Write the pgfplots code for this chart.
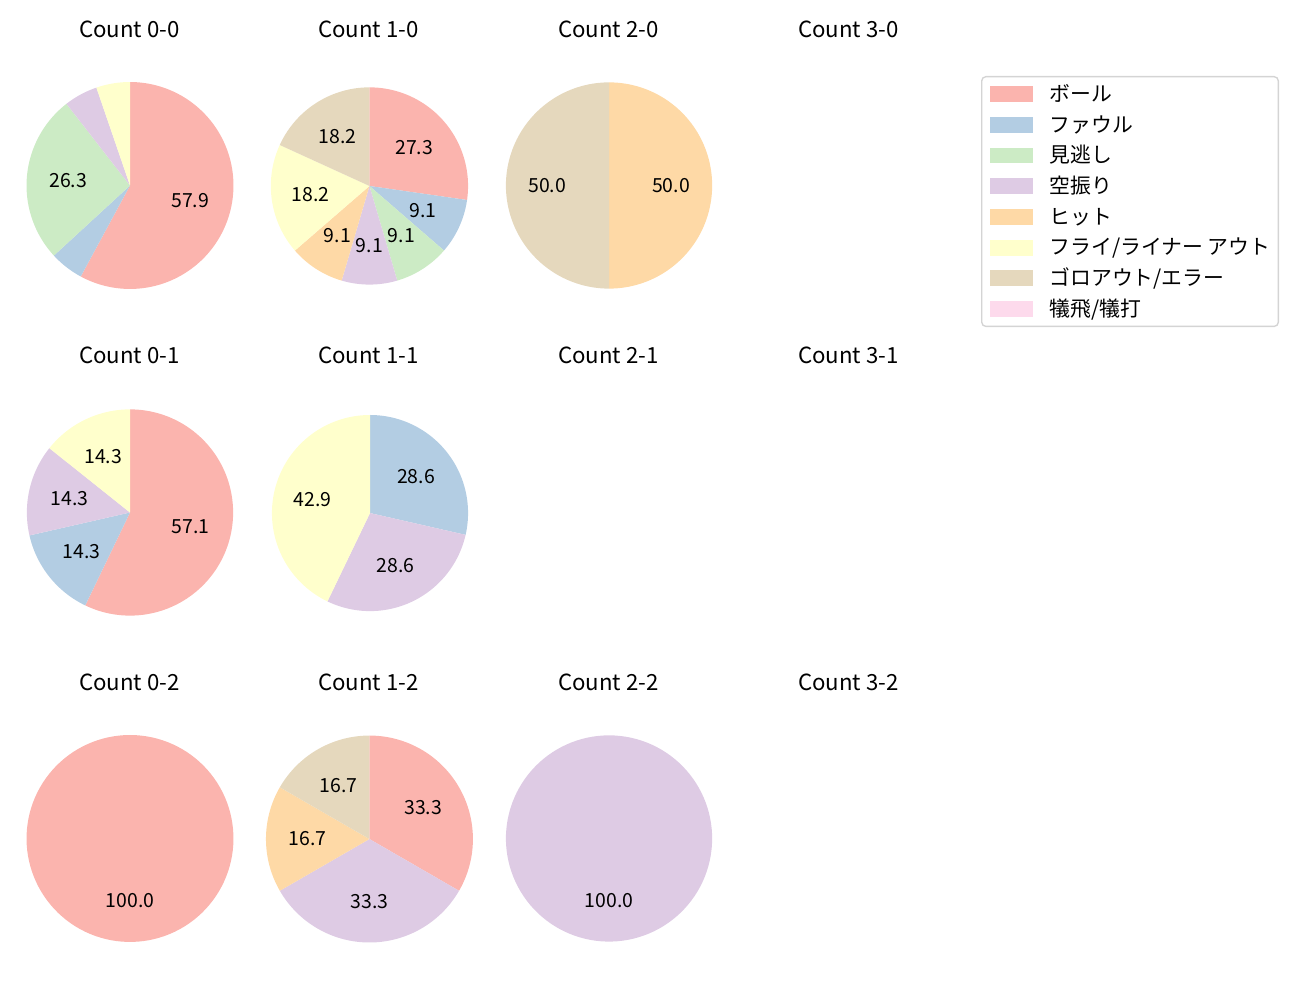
\documentclass[border=0pt]{standalone}
\usepackage{fontspec}
\setmainfont{Noto Sans CJK JP}
\usepackage{pgfplots}
\pgfplotsset{compat=1.18}

\definecolor{cBall}{HTML}{FBB4AE}
\definecolor{cFoul}{HTML}{B3CDE3}
\definecolor{cMino}{HTML}{CCEBC5}
\definecolor{cKara}{HTML}{DECBE4}
\definecolor{cHit}{HTML}{FED9A6}
\definecolor{cFly}{HTML}{FFFFCC}
\definecolor{cGoro}{HTML}{E5D8BD}
\definecolor{cGihi}{HTML}{FDDAEC}

\newcommand\lblfont{\fontsize{14}{16.8}\selectfont}
\newcommand\legfont{\fontsize{15}{18}\selectfont}
\newcommand\ttlfont{\fontsize{16}{19}\selectfont}

% draws a pie (clockwise from 12 o'clock) from a list count/colour
\newcommand{\drawpie}[1]{%
  \gdef\pietotal{0}%
  \foreach \vv/\cc in {#1}{\pgfmathsetmacro\tmp{\pietotal+\vv}\xdef\pietotal{\tmp}}%
  \gdef\piecum{0}%
  \foreach \vv/\cc in {#1}{%
    \pgfmathsetmacro\aS{90-360*\piecum/\pietotal}%
    \pgfmathsetmacro\tmp{\piecum+\vv}\xdef\piecum{\tmp}%
    \pgfmathsetmacro\aE{90-360*\piecum/\pietotal}%
    \pgfmathsetmacro\aM{(\aS+\aE)/2}%
    \pgfmathsetmacro\lx{0.6*cos(\aM)}%
    \pgfmathsetmacro\ly{0.6*sin(\aM)}%
    \pgfmathtruncatemacro\tenths{round(1000*\vv/\pietotal)}%
    \pgfmathtruncatemacro\ipart{(\tenths+0.5)/10}%
    \pgfmathtruncatemacro\dpart{\tenths-10*\ipart}%
    \edef\temp{\noexpand\addplot[fill=\cc, draw=none, domain=\aE:\aS, samples=120] ({cos(x)},{sin(x)}) -- (axis cs:0,0) -- cycle;}%
    \temp
    \ifnum\tenths>60
      \edef\temp{\noexpand\node[font=\noexpand\lblfont, text=black] at (axis cs:\lx,\ly) {\ipart.\dpart};}%
      \temp
    \fi
  }%
}

\pgfplotsset{pieax/.style={hide axis, scale only axis, anchor=center,
  xmin=-1, xmax=1, ymin=-1, ymax=1, clip=false}}

\newcommand{\pieaxis}[4]{%
  \begin{axis}[pieax, at={(#1,#2)}, width=#3, height=#3]
    \drawpie{#4}
  \end{axis}}

\begin{document}
\begin{tikzpicture}
\path (0pt,0pt) rectangle (936pt,720pt);

% ---- titles ----
\foreach \col/\xx in {0/93.24pt,1/265.32pt,2/438.12pt,3/610.92pt}{
  \node[font=\ttlfont, anchor=base] at (\xx,693.3pt) {Count \col-0};
  \node[font=\ttlfont, anchor=base] at (\xx,458.2pt) {Count \col-1};
  \node[font=\ttlfont, anchor=base] at (\xx,223.1pt) {Count \col-2};
}

% ---- pies: x, y, diameter, count/colour ----
% Count 0-0
\pieaxis{93.6pt}{586.44pt}{149.0pt}{11/cBall, 1/cFoul, 5/cMino, 1/cKara, 1/cFly}
% Count 1-0
\pieaxis{266.0pt}{586.1pt}{142.0pt}{3/cBall, 1/cFoul, 1/cMino, 1/cKara, 1/cHit, 2/cFly, 2/cGoro}
% Count 2-0
\pieaxis{438.5pt}{586.44pt}{148.5pt}{1/cHit, 1/cGoro}
% Count 0-1
\pieaxis{93.6pt}{351.0pt}{148.5pt}{4/cBall, 1/cFoul, 1/cKara, 1/cFly}
% Count 1-1
\pieaxis{266.4pt}{350.6pt}{141.2pt}{2/cFoul, 2/cKara, 3/cFly}
% Count 0-2
\pieaxis{93.6pt}{116.3pt}{149.0pt}{1/cBall}
% Count 1-2
\pieaxis{266.0pt}{115.9pt}{149.0pt}{2/cBall, 2/cKara, 1/cHit, 1/cGoro}
% Count 2-2
\pieaxis{438.5pt}{116.3pt}{148.5pt}{1/cKara}

% ---- legend ----
\begin{axis}[at={(0pt,0pt)}, anchor=south west, scale only axis,
  width=936pt, height=720pt, hide axis, xmin=0, xmax=1, ymin=0, ymax=1,
  legend cell align=left,
  legend style={at={(0.75462,0.924)}, anchor=north west, draw=black!17,
    line width=1pt, rounded corners=3pt, fill=white, font=\legfont,
    inner xsep=5.8pt, inner ysep=1.5pt, row sep=0pt,
    nodes={inner sep=0pt, text height=16.35pt, text depth=5.75pt}},
  legend image code/.code={\fill[#1, sharp corners] (0pt,-5.2pt) rectangle (30.2pt,5.2pt); \path (42.0pt,0pt);}]
  \addlegendimage{cBall}\addlegendentry{ボール}
  \addlegendimage{cFoul}\addlegendentry{ファウル}
  \addlegendimage{cMino}\addlegendentry{見逃し}
  \addlegendimage{cKara}\addlegendentry{空振り}
  \addlegendimage{cHit}\addlegendentry{ヒット}
  \addlegendimage{cFly}\addlegendentry{フライ/ライナー アウト}
  \addlegendimage{cGoro}\addlegendentry{ゴロアウト/エラー}
  \addlegendimage{cGihi}\addlegendentry{犠飛/犠打}
\end{axis}
\end{tikzpicture}
\end{document}
